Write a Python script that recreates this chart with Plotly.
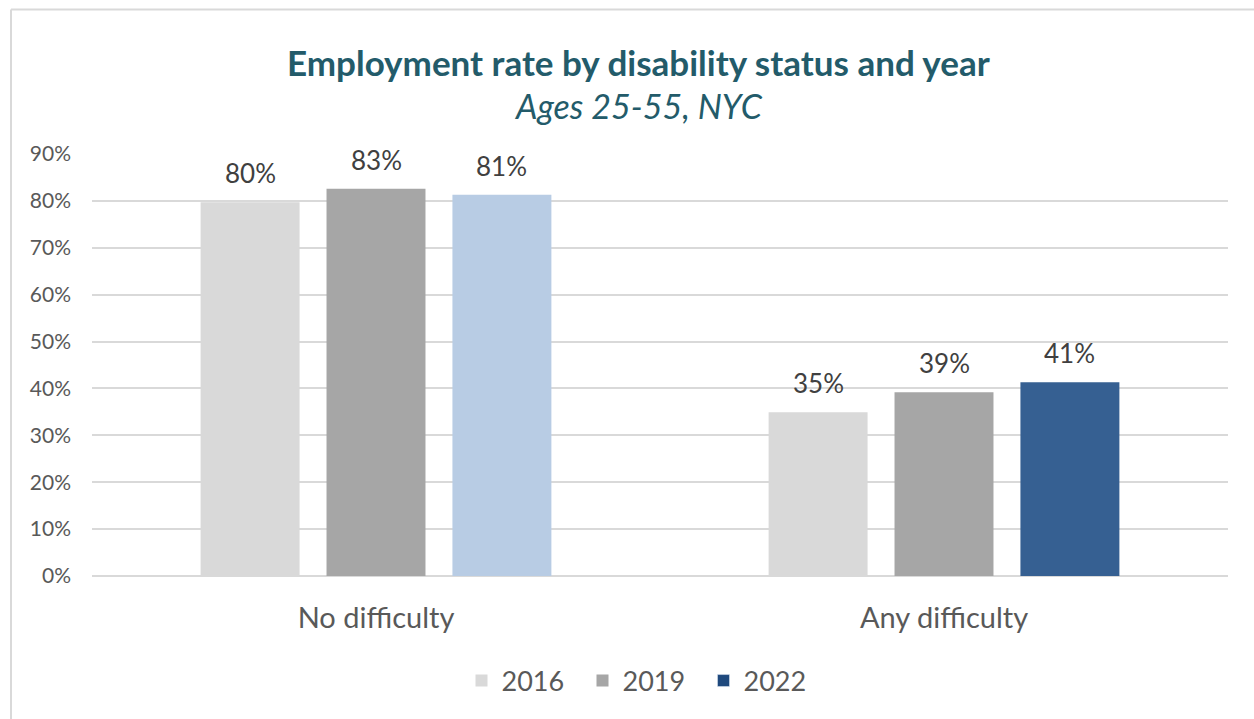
import plotly.graph_objects as go

# Employment rate (%) by disability status, ages 25-55, NYC
categories = ["No difficulty", "Any difficulty"]
years = ["2016", "2019", "2022"]
rate_2016 = [79.7, 34.9]
rate_2019 = [82.6, 39.2]
rate_2022 = [81.3, 41.3]
y_ticks = [0, 10, 20, 30, 40, 50, 60, 70, 80, 90]
y_tick_labels = [f"{v}%" for v in y_ticks]

FONT = "Lato"
W, H = 1254, 719
L, R, T, B = 92, 26, 154, 143
PW, PH = W - L - R, H - T - B
BARGAP, BARGROUPGAP = 0.335, 0.214


def px_x(px):
    return (px - L) / PW


def px_y(py):
    return (H - B - py) / PH


fig = go.Figure()

series = [
    ("2016", rate_2016, ["#D9D9D9", "#D9D9D9"]),
    ("2019", rate_2019, ["#A6A6A6", "#A6A6A6"]),
    ("2022", rate_2022, ["#B8CCE4", "#366092"]),
]

for name, vals, colors in series:
    fig.add_trace(go.Bar(
        x=categories, y=vals, name=name, offsetgroup=name,
        marker=dict(color=colors, line=dict(width=0)),
        showlegend=(name != "2022"),
    ))

# legend entry for 2022 in its dark shade
fig.add_trace(go.Bar(
    x=[categories[0]], y=[None], name="2022", offsetgroup="2022",
    marker=dict(color="#1F497D"), showlegend=True,
))

# value labels above each bar, placed at the bar's slot within its group
slot = (1 - BARGAP) / len(series)
labels = []
for j, (name, vals, _) in enumerate(series):
    for i, v in enumerate(vals):
        labels.append(dict(
            x=i + (j - (len(series) - 1) / 2) * slot, y=v,
            xref="x", yref="y", text=f"{v:.0f}%",
            xanchor="center", yanchor="bottom", yshift=11,
            showarrow=False,
            font=dict(family=FONT, size=26, color="#404040"),
        ))

fig.update_layout(
    width=W, height=H,
    margin=dict(l=L, r=R, t=T, b=B),
    paper_bgcolor="white", plot_bgcolor="white",
    barmode="group", bargap=BARGAP, bargroupgap=BARGROUPGAP,
    font=dict(family=FONT, color="#595959"),
    legend=dict(
        orientation="h", x=px_x(643), xanchor="center",
        y=px_y(681), yanchor="middle",
        font=dict(family=FONT, size=27, color="#595959"),
        traceorder="normal", entrywidth=76, entrywidthmode="pixels",
    ),
    xaxis=dict(
        showgrid=False, showline=False, zeroline=False, ticks="",
        tickfont=dict(family=FONT, size=29, color="#595959"),
        ticklabelstandoff=22,
    ),
    yaxis=dict(
        range=[0, 90], tickmode="array", tickvals=y_ticks,
        ticktext=y_tick_labels,
        showgrid=True, gridcolor="#D9D9D9", gridwidth=2,
        zeroline=True, zerolinecolor="#D9D9D9", zerolinewidth=2,
        showline=False, ticks="",
        tickfont=dict(family=FONT, size=21, color="#595959"),
        ticklabelstandoff=20,
    ),
    annotations=labels + [
        dict(text="<b>Employment rate by disability status and year</b>",
             xref="paper", yref="paper", x=px_x(638), y=px_y(62),
             xanchor="center", yanchor="middle", showarrow=False,
             font=dict(family=FONT, size=35, color="#235B6A")),
        dict(text="<i>Ages 25-55, NYC</i>",
             xref="paper", yref="paper", x=px_x(638), y=px_y(106),
             xanchor="center", yanchor="middle", showarrow=False,
             font=dict(family=FONT, size=34, color="#235B6A")),
    ],
    shapes=[
        dict(type="line", xref="paper", yref="paper",
             x0=px_x(11), x1=px_x(11), y0=px_y(9.5), y1=px_y(H + 20),
             line=dict(color="#D9D9D9", width=2)),
        dict(type="line", xref="paper", yref="paper",
             x0=px_x(11), x1=px_x(W + 20), y0=px_y(9.5), y1=px_y(9.5),
             line=dict(color="#D9D9D9", width=2)),
    ],
)

fig.write_html("out.html")
